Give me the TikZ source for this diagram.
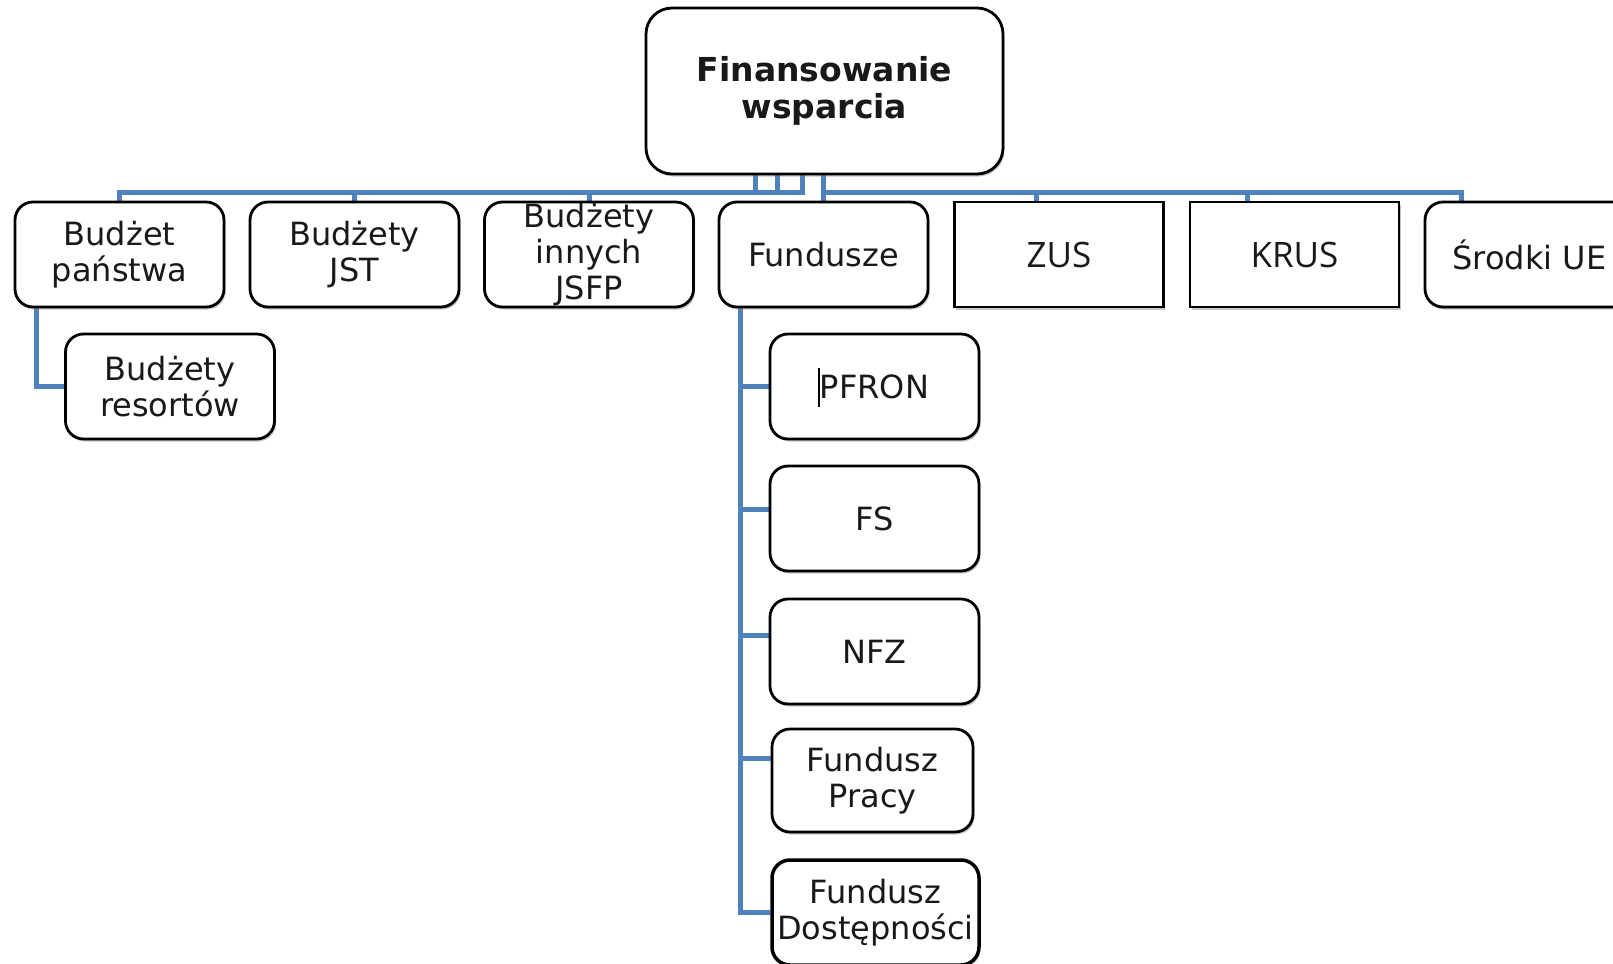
\documentclass[tikz,border=0pt]{standalone}
\usepackage{fontspec}
\setmainfont{DejaVu Sans}
\newfontfamily\segoefont{Open Sans}
\usetikzlibrary{shadows,backgrounds}
\definecolor{connblue}{RGB}{79,129,189}
\definecolor{txt}{RGB}{25,25,25}
\begin{document}
\begin{tikzpicture}[x=1pt,y=1pt,
  box/.style={draw=black, line width=2.8pt, rounded corners=18pt, fill=white, inner sep=0pt,
    align=center, text=txt, minimum width=209pt, minimum height=105pt,
    font=\fontsize{32}{36}\selectfont,
    drop shadow={shadow xshift=1.5pt, shadow yshift=-2.5pt, opacity=0.45}},
  sqbox/.style={box, rounded corners=0pt, font=\segoefont\fontsize{35}{40}\selectfont},
  rootbox/.style={box, rounded corners=26pt, minimum width=357pt, minimum height=166pt,
    font=\bfseries\fontsize{33}{37}\selectfont},
  link/.style={draw=connblue, line width=5pt}]
\useasboundingbox (0,0) rectangle (1613,-963);

% nodes
\node[rootbox] (root) at (824.5,-91) {Finansowanie\\wsparcia};
\node[box] (bp)   at (119.5,-254.5) {Budżet\\państwa};
\node[box] (jst)  at (354.5,-254.5) {Budżety\\JST};
\node[box] (jsfp) at (589,-254.5)   {Budżety\\innych\\JSFP};
\node[box] (fund) at (823.5,-254.5) {Fundusze};
\node[sqbox] (zus)  at (1059,-254.5)  {ZUS};
\node[sqbox] (krus) at (1294.5,-254.5) {KRUS};
\node[box] (srodki) at (1529.5,-254.5) {Środki UE};
\node[box] (res)  at (170,-386.5) {Budżety\\resortów};
\node[box] (pfron) at (874.5,-386.5) {PFRON};
\node[box] (fs)    at (874.5,-518.5) {FS};
\node[box] (nfz)   at (874.5,-651.5) {NFZ};
\node[box, minimum width=201pt, minimum height=103pt] (pracy) at (872.5,-780.5) {Fundusz\\Pracy};
\node[box, minimum width=207pt, line width=3.5pt] (dost) at (875.5,-912.5) {Fundusz\\Dostępności};

% text cursor mark in PFRON box
\draw[line width=1.2pt, black] (819,-368) -- (819,-407);

% helper coordinates
\coordinate (bar) at (0,-192);
\coordinate (c1) at (755,0);
\coordinate (c2) at (777,0);
\coordinate (c3) at (802,0);
\coordinate (c4) at (823,0);
\coordinate (z1) at (1036,0);
\coordinate (z2) at (1247,0);
\coordinate (z3) at (1461,0);
\coordinate (f1) at (740,0);
\coordinate (r1) at (36,0);
\coordinate (yFS) at (0,-509);
\coordinate (yNFZ) at (0,-635);
\coordinate (yPR) at (0,-758);
\coordinate (yDO) at (0,-912);

\begin{scope}[on background layer]
\fill[white] (0,0) rectangle (1613,-963);
% top level
\draw[link] (root.south -| c1) -- (bar -| c1) -| (bp.north);
\draw[link] (root.south -| c2) -- (bar -| c2) -| (jst.north);
\draw[link] (root.south -| c3) -- (bar -| c3) -| (jsfp.north);
\draw[link] (root.south -| c4) -- (fund.north -| c4);
\draw[link] (root.south -| c4) -- (bar -| c4) -| (zus.north -| z1);
\draw[link] (root.south -| c4) -- (bar -| c4) -| (krus.north -| z2);
\draw[link] (root.south -| c4) -- (bar -| c4) -| (srodki.north -| z3);
% Budzet panstwa child
\draw[link] (bp.south -| r1) |- (res.west);
% Fundusze children
\draw[link] (fund.south -| f1) |- (pfron.west);
\draw[link] (fund.south -| f1) |- (fs.west |- yFS);
\draw[link] (fund.south -| f1) |- (nfz.west |- yNFZ);
\draw[link] (fund.south -| f1) |- (pracy.west |- yPR);
\draw[link] (fund.south -| f1) |- (dost.west |- yDO);
\end{scope}
\end{tikzpicture}
\end{document}
